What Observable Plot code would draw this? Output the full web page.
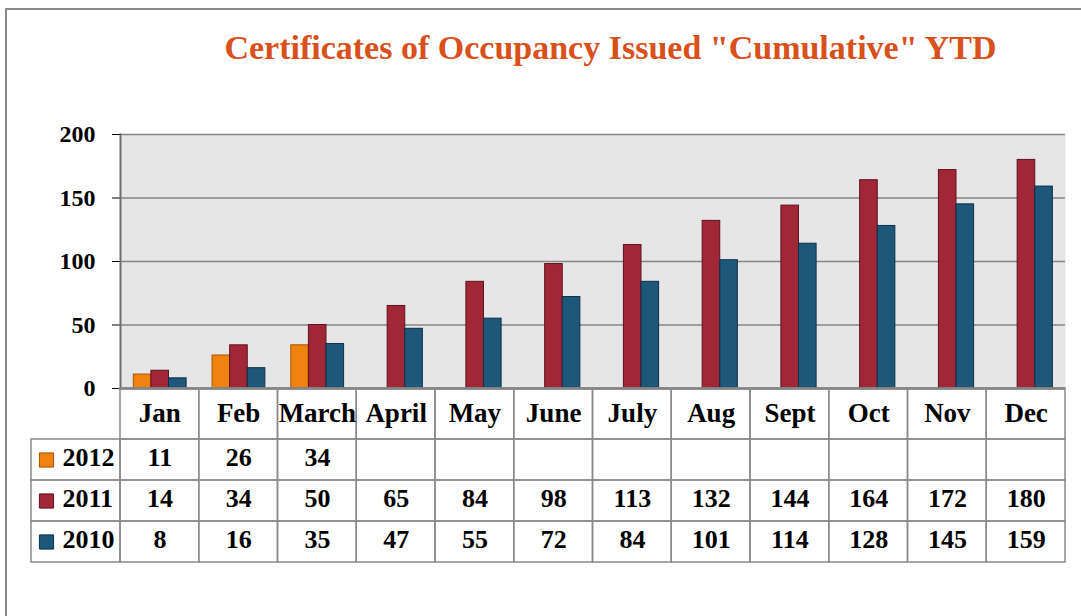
<!DOCTYPE html>
<html>
<head>
<meta charset="utf-8">
<script src="https://cdn.jsdelivr.net/npm/d3@7"></script>
<script src="https://cdn.jsdelivr.net/npm/@observablehq/plot@0.6"></script>
<style>
  html, body { margin: 0; padding: 0; background: #fff; }
  #root { position: relative; width: 1081px; height: 616px; overflow: hidden; font-family: "Liberation Serif", "DejaVu Serif", serif; }
  #border { position: absolute; left: 5px; top: 8px; width: 1076px; height: 608px; border-left: 2px solid #8a8a8a; border-top: 2px solid #8a8a8a; box-sizing: border-box; }
  #title { position: absolute; left: 0; width: 1221px; top: 29px; text-align: center; font-size: 34px; font-weight: bold; color: #d8501c; white-space: nowrap; }
  #chart { position: absolute; left: 0; top: 100px; }
  #table { position: absolute; left: 0; top: 388px; }
</style>
</head>
<body>
<div id="root">
  <div id="border"></div>
  <div id="title">Certificates of Occupancy Issued "Cumulative" YTD</div>
  <div id="chart"></div>
  <div id="table"></div>
</div>
<script>
const months = ["Jan","Feb","March","April","May","June","July","Aug","Sept","Oct","Nov","Dec"];
const seriesNames = ["2012","2011","2010"];
const values2012 = [11, 26, 34, null, null, null, null, null, null, null, null, null];
const values2011 = [14, 34, 50, 65, 84, 98, 113, 132, 144, 164, 172, 180];
const values2010 = [8, 16, 35, 47, 55, 72, 84, 101, 114, 128, 145, 159];
const seriesColors = ["#f0820f", "#a12636", "#1d5779"];
const seriesStrokes = ["#a85400", "#5e1220", "#0e2f47"];
const yTicks = [0, 50, 100, 150, 200];

const seriesValues = [values2012, values2011, values2010];
const rows = [];
seriesNames.forEach((s, k) => months.forEach((m, i) => rows.push({series: s, k, month: m, i, value: seriesValues[k][i]})));

const fontFam = '"Liberation Serif", "DejaVu Serif", serif';
const band = 945 / 12;
const off0 = 13.3, bw = 17.6;

const barMarks = seriesNames.map((s, k) => Plot.barY(rows.filter(d => d.series === s && d.value != null), {
  x: "month", y: "value",
  fill: seriesColors[k], stroke: seriesStrokes[k], strokeWidth: 1,
  insetLeft: off0 + bw * k, insetRight: band - off0 - bw * (k + 1)
}));

const chart = Plot.plot({
  width: 1081, height: 300,
  marginLeft: 120, marginRight: 16, marginTop: 34, marginBottom: 12,
  style: {fontFamily: fontFam, fontSize: "24px", fontWeight: "bold", color: "#000", background: "transparent", overflow: "visible"},
  x: {domain: months, padding: 0, round: false, axis: null},
  y: {domain: [0, 200], ticks: yTicks, tickSize: 8, tickPadding: 17, label: null},
  marks: [
    Plot.frame({fill: "#e6e6e6", stroke: null}),
    Plot.ruleY(yTicks.filter(t => t > 0), {stroke: "#858585", strokeWidth: 1.5}),
    ...barMarks,
    Plot.ruleY([0], {stroke: "#6e6e6e", strokeWidth: 2.5}),
    Plot.frame({anchor: "left", stroke: "#6e6e6e", strokeWidth: 2})
  ]
});
document.getElementById("chart").appendChild(chart);

// Data table drawn with Plot
const legendLeft = -89 / band;
const headerH = 51, rowH = 41;
const rowTop = k => headerH + rowH * k;
const headerCells = months.map((m, i) => ({x1: i, x2: i + 1, y1: 0, y2: headerH, label: m, xc: i + 0.5, yc: headerH / 2}));
const dataCells = rows.map(d => ({x1: d.i, x2: d.i + 1, y1: rowTop(d.k), y2: rowTop(d.k) + rowH, label: d.value == null ? "" : String(d.value), xc: d.i + 0.5, yc: rowTop(d.k) + rowH / 2}));
const legendCells = seriesNames.map((s, k) => ({x1: legendLeft, x2: 0, y1: rowTop(k), y2: rowTop(k) + rowH, label: s, color: seriesColors[k], stroke: seriesStrokes[k], yc: rowTop(k) + rowH / 2}));

const table = Plot.plot({
  width: 1081, height: 178,
  marginLeft: 31, marginRight: 16, marginTop: 0, marginBottom: 0,
  style: {fontFamily: fontFam, fontWeight: "bold", color: "#000", background: "transparent", overflow: "visible"},
  x: {type: "linear", domain: [legendLeft, 12], axis: null},
  y: {type: "linear", domain: [0, 178], range: [0, 178], axis: null},
  marks: [
    Plot.rect([...headerCells, ...dataCells, ...legendCells], {x1: "x1", x2: "x2", y1: "y1", y2: "y2", fill: "none", stroke: "#8a8a8a", strokeWidth: 1.5}),
    Plot.text(headerCells, {x: "xc", y: "yc", text: "label", fontSize: 27, fill: "#000", dy: -1}),
    Plot.text(dataCells, {x: "xc", y: "yc", text: "label", fontSize: 26, fill: "#000", dy: -2}),
    Plot.dot(legendCells, {x: "x1", y: "yc", symbol: "square", r: 8, fill: d => d.color, stroke: d => d.stroke, strokeWidth: 1, dx: 15}),
    Plot.text(legendCells, {x: "x1", y: "yc", text: "label", fontSize: 26, fill: "#000", textAnchor: "start", dx: 31, dy: -2})
  ]
});
document.getElementById("table").appendChild(table);
</script>
</body>
</html>
